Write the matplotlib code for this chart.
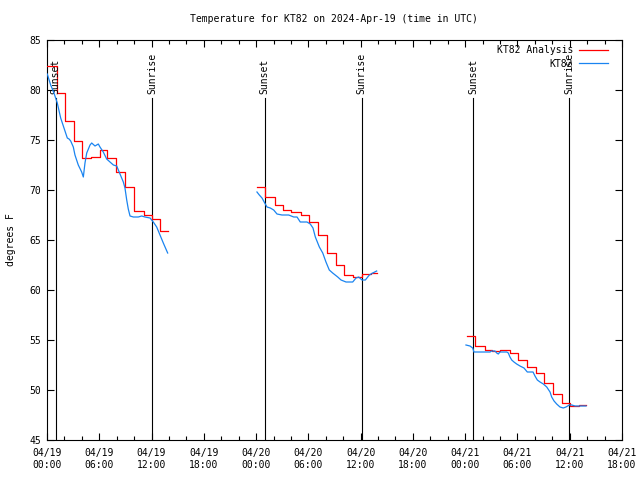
import pandas as pd
import matplotlib
matplotlib.use("Agg")
import matplotlib.pyplot as plt
import matplotlib.dates as mdates

# hours after 2024-04-19 00:00 UTC
START = pd.Timestamp("2024-04-19 00:00")

# analysis (hourly, drawn as steps), three separate chunks
red_t1 = [0.03, 1.15, 2.1, 3.1, 4.05, 5.05, 6.08, 6.85, 7.95, 8.95, 9.95, 11.1, 12.05, 13.0, 13.9]
red_v1 = [82.4, 79.7, 76.9, 74.9, 73.2, 73.3, 74.0, 73.2, 71.8, 70.3, 67.9, 67.5, 67.1, 65.9, 65.9]
red_t2 = [24.1, 25.06, 26.14, 27.09, 28.04, 29.19, 30.11, 31.07, 32.1, 33.17, 34.13, 35.09, 36.12, 37.19, 37.84]
red_v2 = [70.3, 69.3, 68.5, 68.0, 67.8, 67.5, 66.8, 65.5, 63.7, 62.5, 61.5, 61.3, 61.6, 61.7, 61.7]
red_t3 = [48.2, 49.1, 50.25, 51.1, 52.05, 53.1, 54.1, 55.06, 56.1, 57.1, 58.1, 59.06, 60.03, 61.07, 61.87]
red_v3 = [55.4, 54.4, 54.0, 53.9, 54.0, 53.7, 53.0, 52.3, 51.7, 50.7, 49.6, 48.7, 48.4, 48.5, 48.5]

# station observations
blue_t1 = [0.03, 0.42, 0.80, 1.18, 1.57, 1.95, 2.33, 2.53, 2.72, 3.02, 3.21, 3.59, 3.98, 4.17,
           4.36, 4.56, 4.94, 5.13, 5.51, 5.89, 6.08, 6.46, 6.85, 7.23, 7.62, 8.0, 8.38, 8.76,
           8.95, 9.15, 9.33, 9.53, 9.91, 10.48, 10.87, 11.25, 11.83, 12.2, 12.59, 12.97, 13.35, 13.85]
blue_v1 = [81.6, 80.5, 79.7, 78.7, 77.2, 76.2, 75.2, 75.1, 74.9, 74.3, 73.5, 72.5, 71.8, 71.3,
           72.7, 73.7, 74.5, 74.7, 74.4, 74.6, 74.3, 73.8, 73.1, 72.8, 72.5, 72.4, 71.6, 70.8,
           70.2, 69.0, 68.1, 67.4, 67.3, 67.3, 67.4, 67.3, 67.2, 66.8, 66.3, 65.5, 64.7, 63.7]
blue_t2 = [24.1, 24.37, 24.68, 24.99, 25.25, 25.63, 26.02, 26.4, 26.97, 27.74, 28.32, 28.7,
           29.07, 29.84, 30.22, 30.53, 30.8, 31.26, 31.65, 32.02, 32.4, 32.79, 33.37, 33.75,
           34.32, 35.09, 35.47, 35.78, 36.16, 36.54, 37.0, 37.39, 37.84]
blue_v2 = [69.8, 69.5, 69.2, 68.7, 68.3, 68.2, 68.0, 67.6, 67.5, 67.5, 67.3, 67.3,
           66.8, 66.8, 66.6, 66.2, 65.3, 64.3, 63.7, 62.8, 62.0, 61.7, 61.3, 61.0,
           60.8, 60.8, 61.2, 61.3, 61.0, 61.0, 61.5, 61.7, 61.9]
blue_t3 = [48.09, 48.55, 48.86, 49.01, 49.32, 50.05, 50.85, 51.04, 51.42, 51.62, 51.8, 51.99,
           52.77, 52.95, 53.14, 53.34, 53.6, 53.91, 54.29, 54.75, 55.13, 55.79, 56.01, 56.28,
           56.59, 56.97, 57.36, 57.74, 57.93, 58.2, 58.5, 58.88, 59.26, 59.57, 59.95, 60.23,
           60.61, 61.87]
blue_v3 = [54.5, 54.4, 54.2, 53.8, 53.8, 53.8, 53.8, 53.9, 53.9, 53.7, 53.6, 53.8,
           53.8, 53.7, 53.3, 53.0, 52.8, 52.6, 52.4, 52.2, 51.8, 51.8, 51.4, 51.0,
           50.8, 50.6, 50.3, 49.8, 49.3, 48.9, 48.6, 48.3, 48.2, 48.3, 48.5, 48.5,
           48.4, 48.4]

sun_t = [0.98, 12.05, 24.97, 36.1, 48.95, 59.97]
sun_lbl = ["Sunset", "Sunrise", "Sunset", "Sunrise", "Sunset", "Sunrise"]


def to_time(hours):
    return START + pd.to_timedelta(hours, unit="h")


MONO = "DejaVu Sans Mono"
plt.rcParams['font.family'] = MONO
plt.rcParams['font.size'] = 7

fig = plt.figure(figsize=(6.4, 4.8), dpi=100)
ax = fig.add_axes([47 / 640, 40 / 480, 575 / 640, 400 / 480])

RED = "#ff0000"
BLUE = "#1a84f0"

for i, (t, v) in enumerate([(red_t1, red_v1), (red_t2, red_v2), (red_t3, red_v3)]):
    ax.plot(to_time(t), v, color=RED, lw=0.9, drawstyle="steps-post",
            label="KT82 Analysis" if i == 0 else None, zorder=3)
for i, (t, v) in enumerate([(blue_t1, blue_v1), (blue_t2, blue_v2), (blue_t3, blue_v3)]):
    ax.plot(to_time(t), v, color=BLUE, lw=0.9,
            label="KT82" if i == 0 else None, zorder=4)

# sunrise / sunset markers
for t, lbl in zip(sun_t, sun_lbl):
    x = to_time(t)
    ax.axvline(x, ymin=0, ymax=0.855, color="black", lw=0.8, zorder=2)
    ax.text(x, 0.866, lbl, transform=ax.get_xaxis_transform(), rotation=90,
            ha="center", va="bottom", fontsize=7)

ax.set_xlim(to_time(0), to_time(66))
ax.set_ylim(45, 85)
ax.set_yticks(range(45, 86, 5))
ax.xaxis.set_major_locator(mdates.HourLocator(byhour=[0, 6, 12, 18]))
ax.xaxis.set_minor_locator(mdates.HourLocator(interval=2))
ax.xaxis.set_major_formatter(mdates.DateFormatter("%m/%d\n%H:%M"))

ax.tick_params(which="both", direction="in", top=True, right=True, labelsize=7)
ax.tick_params(which="major", length=5, width=0.8, pad=6)
ax.tick_params(which="minor", length=3, width=0.8)
ax.tick_params(axis="y", pad=4)
for s in ax.spines.values():
    s.set_linewidth(0.8)

ax.set_ylabel("degrees F", fontsize=7, labelpad=10)
fig.text(334 / 640, 1 - 19 / 480, "Temperature for KT82 on 2024-Apr-19 (time in UTC)",
         ha="center", va="center", fontsize=7)

ax.legend(loc="upper right", frameon=False, markerfirst=False, handlelength=3.0,
          fontsize=7, borderaxespad=0.25, borderpad=0.3, labelspacing=0.35,
          handletextpad=0.6, bbox_to_anchor=(0.985, 1.0))

fig.savefig("out.png", dpi=100)
